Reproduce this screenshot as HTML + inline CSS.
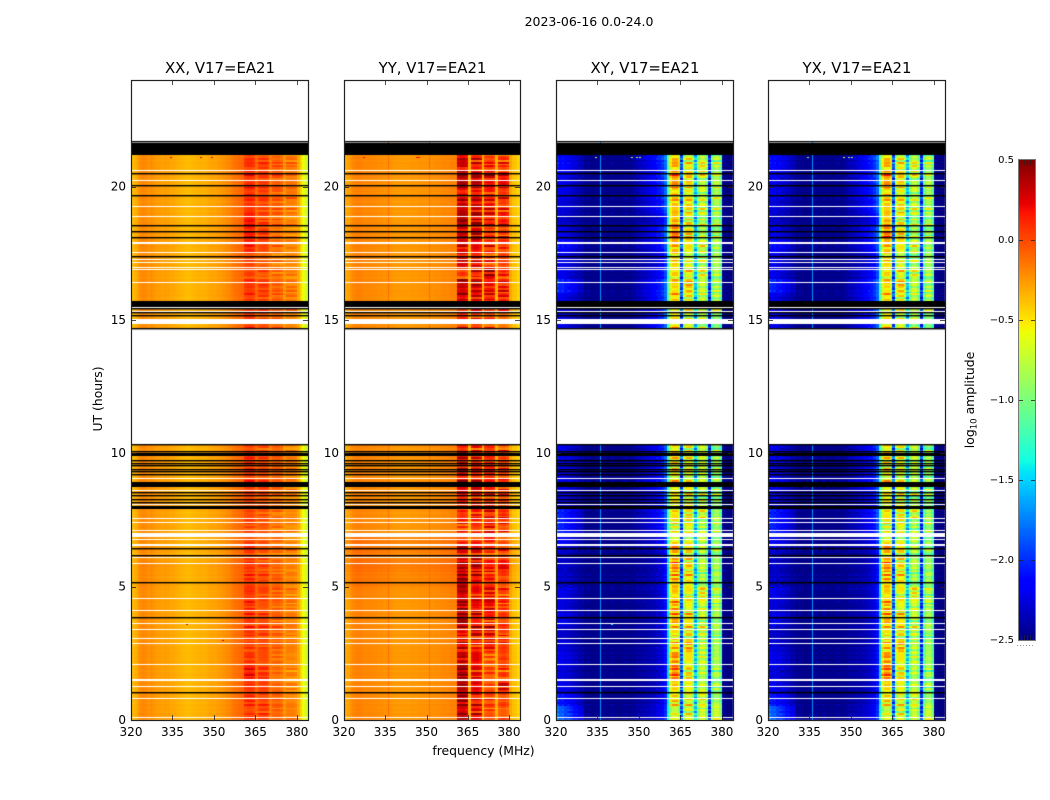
<!DOCTYPE html>
<html lang="en">
<head>
<meta charset="utf-8">
<title>2023-06-16 0.0-24.0</title>
<style>
html,body{margin:0;padding:0;background:#fff;}
#figure{position:relative;width:1050px;height:800px;overflow:hidden;background:#fff;font-family:"DejaVu Sans","Liberation Sans",sans-serif;}
canvas{position:absolute;display:block;}
svg{position:absolute;left:0;top:0;}
text{font-family:"DejaVu Sans","Liberation Sans",sans-serif;fill:#000;}
</style>
</head>
<body>
<div id="figure">
<canvas id="panel-xx"></canvas>
<canvas id="panel-yy"></canvas>
<canvas id="panel-xy"></canvas>
<canvas id="panel-yx"></canvas>
<canvas id="colorbar"></canvas>
<svg id="overlay" width="1050" height="800" viewBox="0 0 1050 800">
<text x="589" y="26" font-size="12.5" text-anchor="middle">2023-06-16 0.0-24.0</text>
<text x="483.5" y="755" font-size="12.4" text-anchor="middle">frequency (MHz)</text>
<text transform="translate(102,399) rotate(-90)" font-size="12.4" text-anchor="middle">UT (hours)</text>
<text transform="translate(974,400) rotate(-90)" font-size="12.4" text-anchor="middle">log<tspan font-size="8.6" dy="2.5">10</tspan><tspan dy="-2.5"> amplitude</tspan></text>
</svg>
</div>
<script>
/* ---------- axis data ---------- */
const freqTicks = [320, 335, 350, 365, 380];
const hourTicks = [0, 5, 10, 15, 20];
const colorTicks = [-2.5, -2.0, -1.5, -1.0, -0.5, 0.0, 0.5];
const panelTitles = ["XX, V17=EA21", "YY, V17=EA21", "XY, V17=EA21", "YX, V17=EA21"];

/* ---------- observed hour ranges and flagged rows ---------- */
const dataRanges = [[0, 10.34], [14.69, 21.72]];
const whiteLines = [0.10,0.81,1.29,2.09,2.88,3.06,3.42,3.63,4.11,4.56,5.88,6.12,6.80,7.12,7.41,7.59,8.10,8.62,9.06,15.34,15.50,16.41,16.90,16.99,17.16,17.27,17.54,17.87,17.94,18.89,19.26,20.24,20.61];
const blackLines = [1.04,3.85,5.16,6.17,6.44,8.16,8.29,8.42,8.55,9.22,9.32,9.41,9.55,9.62,9.76,10.08,10.34,14.69,15.19,15.31,15.46,17.39,18.10,18.32,18.56,19.67,20.08,20.53,21.71];
const whiteBlocks = [[1.45,1.53],[6.53,6.60],[6.88,7.00],[14.85,15.03],[21.66,21.70]];
const blackBlocks = [[7.92,8.02],[8.72,8.94],[9.90,10.02],[15.49,15.72],[21.19,21.65]];

/* ---------- per-channel log10 amplitude, 320..383 MHz ---------- */
const xxProfile = [-.38,-.33,-.27,-.22,-.2,-.22,-.25,-.22,-.25,-.27,-.27,-.28,-.27,-.28,-.3,-.3,-.32,-.33,-.35,-.36,-.37,-.36,-.35,-.34,-.33,-.33,-.33,-.32,-.3,-.29,-.29,-.27,-.26,-.24,-.22,-.2,-.17,-.14,-.12,-.1,-.09,.03,.06,.06,.02,-.1,-.02,0,0,-.04,-.17,-.1,-.08,-.08,-.12,-.25,-.17,-.17,-.17,-.2,-.3,-.45,-.58,-.72];
const yyProfile = [-.32,-.28,-.24,-.2,-.18,-.18,-.19,-.2,-.2,-.2,-.21,-.21,-.22,-.22,-.23,-.23,-.24,-.25,-.25,-.26,-.26,-.26,-.26,-.26,-.25,-.25,-.25,-.24,-.24,-.24,-.24,-.23,-.23,-.22,-.22,-.21,-.2,-.2,-.19,-.18,-.18,.26,.3,.3,.24,-.33,.16,.2,.2,.14,-.33,.1,.14,.14,.08,-.33,.06,.1,.1,.04,-.3,-.38,-.4,-.45];
const xyProfile = [-2.28,-2.32,-2.28,-2.32,-2.33,-2.36,-2.38,-2.4,-2.42,-2.44,-2.47,-2.47,-2.47,-2.47,-2.47,-2.47,-2.47,-2.47,-2.47,-2.47,-2.47,-2.47,-2.47,-2.47,-2.47,-2.47,-2.47,-2.46,-2.45,-2.44,-2.43,-2.42,-2.41,-2.4,-2.38,-2.36,-2.34,-2.3,-2.25,-2.1,-1.5,-.65,-.42,-.42,-.6,-1.9,-.85,-.6,-.6,-.85,-1.55,-1.0,-.75,-.75,-1.0,-2.05,-1.1,-.85,-.85,-1.1,-2.45,-2.48,-2.5,-2.5];
const yxProfile = [-2.3,-2.32,-2.3,-2.32,-2.34,-2.36,-2.38,-2.4,-2.42,-2.44,-2.47,-2.47,-2.47,-2.47,-2.47,-2.47,-2.47,-2.47,-2.47,-2.47,-2.47,-2.47,-2.47,-2.47,-2.47,-2.47,-2.47,-2.46,-2.45,-2.44,-2.43,-2.42,-2.41,-2.4,-2.38,-2.36,-2.34,-2.3,-2.25,-2.1,-1.5,-.67,-.44,-.44,-.62,-1.9,-.87,-.62,-.62,-.87,-1.55,-1.02,-.77,-.77,-1.02,-2.05,-1.12,-.87,-.87,-1.12,-2.45,-2.48,-2.5,-2.5];
const colTexture = [2,-1,1,-2,2,1,-1,2,-2,1,-1,2,0,-2,1,0,-1,2,-2,1,2,-1,0,-2,1,2,-1,1,-2,2,-1,1,2,-2,1,-1,2,-1,1,0,0,0,0,0,0,0,0,0,0,0,0,0,0,0,0,0,0,0,0,0,0,0,0,0];

/* ---------- narrow single-pixel spectral lines ---------- */
const linePanels = [1, 1, 2, 3];
const lineFreqs = [335.9, 350.9, 335.9, 335.9];
const lineValues = [-.12, -.12, -1.7, -1.7];

/* ---------- half-hour block offsets, hours 0.0 .. 21.5 ---------- */
const xxLow = [0,0,0,0,0,0,0,0,0,0,.01,.02,0,0,0,0,0,0,0,0,0, 0,0,0,0,0,0,0,0, 0,0,0,0,0,0,0,0,0,0,0,0,0,0,0];
const xxBand1 = [-.05,0,0,.1,-.02,-.04,0,0,0,0,0,0,-.05,-.03,-.05,-.05,-.05,0,0,0,-.05, 0,0,0,0,0,0,0,0, 0,0,0,0,-.05,-.05,.05,.1,.1,0,.02,.02,0,0,0];
const xxBand2 = [0,.02,.02,.05,-.02,0,.02,0,-.03,0,0,0,-.05,-.03,-.05,-.05,-.03,.02,0,0,-.03, 0,0,0,0,0,0,0,0, 0,0,0,.02,-.05,-.08,-.02,.02,.02,0,.02,.02,.02,0,0];
const xxBand3 = [-.02,0,-.03,-.03,-.05,0,0,0,-.02,0,0,-.02,-.03,-.03,-.05,-.05,-.03,0,0,0,-.02, 0,0,0,0,0,0,0,0, 0,0,0,0,-.05,-.08,-.05,-.04,0,0,.02,.04,.02,0,0];
const xxBand4 = [-.02,-.02,-.03,-.03,-.04,0,0,-.02,-.02,-.02,-.02,-.02,-.02,-.02,-.03,-.03,-.02,0,0,0,-.02, 0,0,0,0,0,0,0,0, 0,0,0,0,-.03,-.05,-.05,-.05,-.02,0,.02,.02,.02,0,0];

const yyLow = [0,0,0,0,0,0,0,0,0,.01,.05,.08,.06,.06,0,0,0,0,0,0,0, 0,0,0,0,0,0,0,0, 0,0,0,0,0,0,0,0,0,0,0,0,0,0,0];
const yyBand1 = [0,.05,.05,.12,-.05,-.05,-.1,.12,.05,0,.1,.05,-.15,-.2,-.25,-.2,-.15,0,-.05,-.1,-.15, 0,0,0,0,0,0,0,0, -.25,-.2,0,0,-.3,-.05,-.1,.05,.1,0,-.1,.1,-.05,0,0];
const yyBand2 = [-.05,-.05,0,-.05,0,-.1,.05,-.05,0,-.05,0,.1,0,-.1,-.15,-.1,-.1,.05,-.05,-.1,-.1, 0,0,0,0,0,0,0,0, -.15,-.1,0,.05,-.1,0,-.05,.05,.15,.05,-.05,.1,-.1,0,0];
const yyBand3 = [-.2,-.15,-.2,-.15,-.25,0,.05,-.05,.05,0,-.05,0,-.1,-.05,0,0,-.05,-.05,-.05,-.1,-.1, 0,0,0,0,0,0,0,0, -.2,-.15,0,0,.15,-.1,-.1,-.05,.05,0,-.05,.1,-.1,-.1,0];
const yyBand4 = [-.2,-.1,.1,-.1,-.1,-.05,-.05,-.1,-.1,-.1,-.1,.1,-.1,-.1,-.05,0,-.05,-.05,-.05,-.1,-.1, 0,0,0,0,0,0,0,0, -.2,-.15,0,0,-.05,-.1,-.1,-.05,.05,-.05,-.05,.1,-.1,-.1,0];

const crossLeft = [.5,.25,.1,.05,.1,.05,0,.1,.05,.1,0,0,0,.15,.3,.3,.1,.1,.1,.1,.1, 0,0,0,0,0,0,0,0, .1,.1,.1,.3,.1,.1,.2,.1,0,.05,.1,.1,.2,.2,0];
const crossRight = [.1,.05,0,0,0,0,0,0,0,0,0,0,0,.1,.2,.25,.2,.25,.25,.25,.25, 0,0,0,0,0,0,0,0, .3,.3,.3,.3,.2,.1,.2,.3,.1,.25,.3,.3,.3,.4,0];
const crossBand1 = [-.3,-.1,-.05,.25,.1,0,-.1,.1,.05,-.05,.05,.2,0,-.1,-.2,-.05,-.1,-.1,-.1,-.1,-.1, 0,0,0,0,0,0,0,0, 0,-.1,0,-.05,-.1,-.05,0,.3,.05,0,0,.2,.05,0,0];
const crossBand2 = [-.1,0,0,.05,.05,.25,.05,.1,0,0,.1,.1,.1,0,0,.05,0,0,0,0,0, 0,0,0,0,0,0,0,0, 0,0,0,.15,0,-.05,0,.1,0,.1,0,.1,0,0,0];
const crossBand3 = [0,.1,0,0,0,0,.05,0,.05,.2,-.1,0,0,0,-.05,.15,0,0,0,0,0, 0,0,0,0,0,0,0,0, -.05,0,0,0,.1,0,.05,0,0,.05,0,.05,.1,0,0];
const crossBand4 = [.1,0,0,0,0,0,0,-.05,0,.05,0,0,-.05,0,.05,0,0,0,0,0,0, 0,0,0,0,0,0,0,0, -.05,0,0,0,0,0,-.05,0,0,.05,0,.05,0,0,0];

/* ---------- row-to-row fluctuation, one entry per 4-minute row ---------- */
const rowTexture = [
2,-1,1,3,-2,2,-1,0,3,-2,1,2,-3,1,0,2,-1,3,
-2,1,2,-1,3,0,-2,2,1,-3,2,0,1,-2,3,-1,0,2,
-1,3,-2,0,2,-2,1,3,-1,0,-3,2,1,-1,2,-2,3,0,
1,-2,2,-1,0,3,-3,1,2,-1,1,-2,3,0,-1,2,-2,1,
0,3,-1,2,-3,1,0,2,-2,3,-1,1,-2,0,2,-1,3,-2,
1,0,2,-3,1,3,-1,2,-2,0,1,2,-1,-3,3,0,2,-2,
1,-1,3,-2,0,2,-1,1,-3,2,0,3,-2,1,-1,2,0,-3,
3,1,-2,2,-1,0,2,-2,3,1,-3,0,2,-1,1,3,-2,0,
2,-1,-2,3,1,-2,0,2,-3,1,2,-1,0,3,-2,1,-1,2,
-2,3,0,1,-3,2,-1,1,0,2,-2,3,1,-1,-2,2,0,3,
-1,-3,1,2,0,-2,3,-1,1,2,-2,0,3,-3,1,-1,2,0,
-2,3,1,-1,2,-3,0,2,1,-2,3,0,-1,1,2,-3,3,-1,
0,2,-2,1,3,-1,-2,0,2,1,-3,3,0,-1,2,-2,1,3,
-1,0,2,-3,1,2,-2,3,-1,0,1,-2,3,2,-3,0,1,-1,
3,-2,2,0,-1,1,3,-3,2,-1,0,2,-2,1,3,-1,-2,2,
0,3,-3,1,2,-1,0,-2,3,1,-1,2,-3,0,2,1,-2,3,
-1,2,0,-2,1,3,-3,2,-1,1,0,3,-2,-1,2,0,-3,1,
3,-1,2,-2,0,1,-1,3,-2,2,0,-3,1,2,-1,3,0,-2];

/* ---------- isolated bright channels ---------- */
const speckPanels = [0,0,0,0,0,1,1,1,2,2,2,2,2,3,3,3,3];
const speckFreqs = [334,345,349,340,353,327,346,347,347,350,334,349,340,347,350,334,349];
const speckHours = [21.13,21.13,21.13,3.6,3.0,21.13,21.13,21.13,21.13,21.13,21.13,21.13,3.6,21.13,21.13,21.13,21.13];
const speckValues = [.25,.25,.25,.3,.3,.2,.2,.2,-.7,-.7,-.7,-.8,-1.4,-.7,-.7,-.8,-.8];

/* ---------- scales ---------- */
const plotTop = 80, plotBottom = 720, hourSpan = 24, freqStart = 320, freqSpan = 64, rowStep = 1 / 15;
const colorMin = -2.5, colorMax = 0.5;
const panelLefts = [131, 344, 556, 768];
const panelRights = [308, 520, 733, 945];
const panelProfiles = [xxProfile, yyProfile, xyProfile, yxProfile];
const panelIds = ["panel-xx", "panel-yy", "panel-xy", "panel-yx"];

function yScale(h) { return plotBottom - h * (plotBottom - plotTop) / hourSpan; }
function xScale(p, f) { return panelLefts[p] + (f - freqStart) * (panelRights[p] - panelLefts[p]) / freqSpan; }

const jetR = [[0,0],[.35,0],[.66,1],[.89,1],[1,.5]];
const jetG = [[0,0],[.125,0],[.375,1],[.64,1],[.91,0],[1,0]];
const jetB = [[0,.5],[.11,1],[.34,1],[.65,0],[1,0]];
function seg(s, t) {
  for (let i = 1; i < s.length; i++) {
    if (t <= s[i][0]) return s[i-1][1] + (s[i][1] - s[i-1][1]) * (t - s[i-1][0]) / (s[i][0] - s[i-1][0]);
  }
  return s[s.length - 1][1];
}
function colorScale(v) {
  const t = Math.max(0, Math.min(1, (v - colorMin) / (colorMax - colorMin)));
  return "rgb(" + Math.round(seg(jetR, t) * 255) + "," + Math.round(seg(jetG, t) * 255) + "," + Math.round(seg(jetB, t) * 255) + ")";
}

function cellValue(p, c, r) {
  const k = Math.min(43, Math.floor(r * rowStep * 2 + 1e-6));
  const tex = rowTexture[r] || 0;
  const base = panelProfiles[p][c];
  const band = c >= 41 && c <= 44 ? 1 : c >= 46 && c <= 49 ? 2 : c >= 51 && c <= 54 ? 3 : c >= 56 && c <= 59 ? 4 : 0;
  const gap = c === 45 || c === 50 || c === 55;
  const bandTex = (tex + (rowTexture[(r + 7 * band) % rowTexture.length] || 0)) / 2;
  if (p < 2) {
    const low = p === 0 ? xxLow : yyLow;
    const sets = p === 0 ? [xxBand1, xxBand2, xxBand3, xxBand4] : [yyBand1, yyBand2, yyBand3, yyBand4];
    const stripe = p === 0 ? 0.05 : 0.1;
    if (band) return base + sets[band - 1][k] + bandTex * stripe;
    if (gap) return base + low[k] + tex * 0.012;
    return base + low[k] + tex * 0.004;
  }
  const sets = [crossBand1, crossBand2, crossBand3, crossBand4];
  if (band) return base + sets[band - 1][k] + bandTex * 0.13;
  if (gap) return base + tex * 0.1;
  if (c >= 60) return base;
  let v = base + tex * colTexture[c] * 0.012 + tex * 0.012;
  if (c <= 9) v += crossLeft[k] * (1 - c / 14);
  if (c >= 27) v += crossRight[k] * (c - 26) / 14;
  return v;
}

/* ---------- heatmaps ---------- */
panelIds.forEach(function (id, p) {
  const cv = document.getElementById(id);
  const left = panelLefts[p], right = panelRights[p];
  cv.width = right - left + 1;
  cv.height = plotBottom - plotTop + 1;
  cv.style.left = left + "px";
  cv.style.top = plotTop + "px";
  const g = cv.getContext("2d");
  g.fillStyle = "#fff";
  g.fillRect(0, 0, cv.width, cv.height);
  for (let r = 0; r < rowTexture.length; r++) {
    const h0 = r * rowStep, h1 = (r + 1) * rowStep;
    const range = dataRanges.find(function (d) { return h1 > d[0] && h0 < d[1]; });
    if (!range) continue;
    const lo = Math.max(h0, range[0]);
    const hi = Math.min(h1, range[1]);
    const yT = Math.round(yScale(hi)), yB = Math.round(yScale(lo));
    for (let c = 0; c < freqSpan; c++) {
      const xL = Math.round(xScale(p, freqStart + c)), xR = Math.round(xScale(p, freqStart + c + 1));
      g.fillStyle = colorScale(cellValue(p, c, r));
      g.fillRect(xL - left, yT - plotTop, xR - xL, yB - yT);
    }
  }
  linePanels.forEach(function (lp, i) {
    if (lp !== p) return;
    g.fillStyle = colorScale(lineValues[i]);
    dataRanges.forEach(function (d) {
      const t = Math.round(yScale(d[1])), e = Math.round(yScale(d[0]));
      g.fillRect(Math.round(xScale(p, lineFreqs[i])) - left, t - plotTop, 1, e - t);
    });
  });
  speckPanels.forEach(function (sp, i) {
    if (sp !== p) return;
    g.fillStyle = colorScale(speckValues[i]);
    g.fillRect(Math.round(xScale(p, speckFreqs[i])) - left, Math.round(yScale(speckHours[i])) - plotTop, 2, 1);
  });
  whiteLines.forEach(function (h) {
    g.fillStyle = "#fff";
    g.fillRect(0, Math.round(yScale(h)) - plotTop, cv.width, 1);
  });
  whiteBlocks.forEach(function (b) {
    g.fillStyle = "#fff";
    const t = Math.round(yScale(b[1])), e = Math.round(yScale(b[0]));
    g.fillRect(0, t - plotTop, cv.width, e - t);
  });
  blackLines.forEach(function (h) {
    g.fillStyle = "#000";
    g.fillRect(0, Math.round(yScale(h)) - plotTop, cv.width, 1.4);
  });
  blackBlocks.forEach(function (b) {
    g.fillStyle = "#000";
    const t = Math.round(yScale(b[1])), e = Math.round(yScale(b[0]));
    g.fillRect(0, t - plotTop, cv.width, e - t);
  });
});

/* ---------- colorbar ---------- */
const cbLeft = 1019, cbRight = 1035, cbTop = 160, cbBottom = 640;
function cbScale(v) { return cbBottom - (v - colorMin) * (cbBottom - cbTop) / (colorMax - colorMin); }
(function () {
  const cv = document.getElementById("colorbar");
  cv.width = cbRight - cbLeft;
  cv.height = cbBottom - cbTop;
  cv.style.left = cbLeft + "px";
  cv.style.top = cbTop + "px";
  const g = cv.getContext("2d");
  for (let i = 0; i < cv.height; i++) {
    g.fillStyle = colorScale(colorMax - (i + 0.5) * (colorMax - colorMin) / cv.height);
    g.fillRect(0, i, cv.width, 1);
  }
})();

/* ---------- vector annotations ---------- */
const svg = document.getElementById("overlay");
const NS = "http://www.w3.org/2000/svg";
function addLine(x1, y1, x2, y2, color, width) {
  const l = document.createElementNS(NS, "line");
  l.setAttribute("x1", x1);
  l.setAttribute("y1", y1);
  l.setAttribute("x2", x2);
  l.setAttribute("y2", y2);
  l.setAttribute("stroke", color);
  l.setAttribute("stroke-width", width);
  
  
  svg.appendChild(l);
}
function addText(x, y, str, size, anchor) {
  const t = document.createElementNS(NS, "text");
  t.setAttribute("x", x);
  t.setAttribute("y", y);
  t.setAttribute("font-size", size);
  t.setAttribute("text-anchor", anchor);
  
  
  t.textContent = str;
  svg.appendChild(t);
}
panelIds.forEach(function (id, p) {
  const left = panelLefts[p] + 0.5, right = panelRights[p] + 0.5;
  const frame = document.createElementNS(NS, "rect");
  frame.setAttribute("x", left);
  frame.setAttribute("y", plotTop + 0.5);
  frame.setAttribute("width", right - left);
  frame.setAttribute("height", plotBottom - plotTop);
  frame.setAttribute("fill", "none");
  frame.setAttribute("stroke", "#222");
  frame.setAttribute("stroke-width", "1.2");
  
  
  svg.appendChild(frame);
  freqTicks.forEach(function (f) {
    const x = Math.round(xScale(p, f)) + 0.5;
    if (f !== freqStart) {
      addLine(x, plotBottom, x, plotBottom - 5, "#222", 0.8);
      addLine(x, plotTop, x, plotTop + 5, "#222", 0.8);
    }
    addText(xScale(p, f), 736, String(f), 12, "middle");
  });
  hourTicks.forEach(function (h) {
    const y = Math.round(yScale(h)) + 0.5;
    if (h !== 0) {
      addLine(panelLefts[p], y, panelLefts[p] + 5, y, "#222", 0.8);
      addLine(panelRights[p], y, panelRights[p] - 5, y, "#222", 0.8);
    }
    addText(panelLefts[p] - 5, yScale(h) + 3.8, String(h), 12, "end");
  });
  const title = document.createElementNS(NS, "text");
  title.setAttribute("x", (panelLefts[p] + panelRights[p]) / 2 + 0.5);
  title.setAttribute("y", 73);
  title.setAttribute("font-size", "14.9");
  title.setAttribute("text-anchor", "middle");
  
  
  title.textContent = panelTitles[p];
  svg.appendChild(title);
});
const cbFrame = document.createElementNS(NS, "rect");
cbFrame.setAttribute("x", cbLeft - 0.5);
cbFrame.setAttribute("y", cbTop - 0.5);
cbFrame.setAttribute("width", cbRight - cbLeft + 1);
cbFrame.setAttribute("height", cbBottom - cbTop + 1);
cbFrame.setAttribute("fill", "none");
cbFrame.setAttribute("stroke", "#777");
cbFrame.setAttribute("stroke-width", "1");


svg.appendChild(cbFrame);
colorTicks.forEach(function (v) {
  const y = Math.round(cbScale(v)) + 0.5;
  if (v > colorMin && v < colorMax) {
    addLine(cbLeft, y, cbLeft + 4, y, "#222", 0.8);
    addLine(cbRight, y, cbRight - 4, y, "#222", 0.8);
  }
  const s = (v < 0 ? "\u2212" : "") + Math.abs(v).toFixed(1);
  addText(cbLeft - 5, cbScale(v) + 2.8, s, 10, "end");
});
[2, 5, 8, 11, 14].forEach(function (dx) {
  addLine(cbLeft + dx + 0.5, cbTop, cbLeft + dx + 0.5, cbTop + 5, "#222", 0.8);
  addLine(cbLeft + dx + 0.5, cbBottom, cbLeft + dx + 0.5, cbBottom - 5, "#222", 0.8);
});
[0, 3, 6, 9, 12, 15].forEach(function (dx) {
  const d = document.createElementNS(NS, "rect");
  d.setAttribute("x", cbLeft - 2 + dx);
  d.setAttribute("y", 645);
  d.setAttribute("width", 1);
  d.setAttribute("height", 1);
  d.setAttribute("fill", "#999");
  
  
  svg.appendChild(d);
});
</script>
</body>
</html>
